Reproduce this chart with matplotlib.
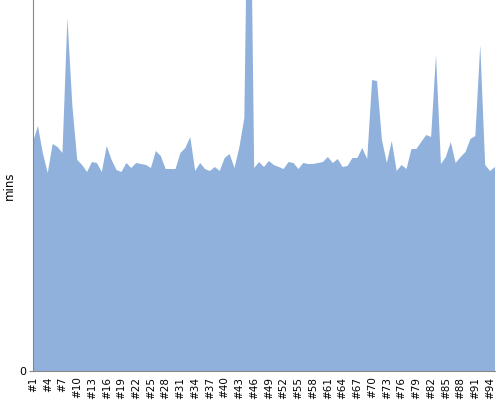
import numpy as np
import matplotlib
matplotlib.use("Agg")
import matplotlib.pyplot as plt

# minutes per run, #1 .. #95
mins = [45.8, 49.0, 43.6, 39.6, 45.4, 44.8, 43.6, 70.6, 53.2, 42.2,
        41.2, 39.8, 41.8, 41.6, 39.8, 45.0, 42.2, 40.2, 39.8, 41.6,
        40.6, 41.6, 41.4, 41.2, 40.6, 44.0, 43.0, 40.4, 40.4, 40.4,
        43.6, 44.6, 46.8, 40.0, 41.6, 40.4, 40.0, 40.8, 40.0, 42.6,
        43.4, 40.6, 44.8, 50.6, 122.2, 40.6, 41.8, 40.8, 42.0, 41.2,
        40.8, 40.4, 41.8, 41.6, 40.4, 41.6, 41.4, 41.4, 41.6, 41.8,
        42.8, 41.6, 42.4, 40.8, 41.0, 42.6, 42.6, 44.6, 42.4, 58.2,
        58.0, 46.2, 41.6, 46.0, 40.0, 41.2, 40.4, 44.4, 44.4, 45.8,
        47.2, 46.8, 63.2, 41.4, 42.8, 45.8, 41.6, 42.8, 43.8, 46.4,
        47.0, 65.2, 41.2, 40.0, 40.8]
runs = ["#%d" % (i + 1) for i in range(len(mins))]
y_max = 74.2

x = np.arange(len(mins))

fig = plt.figure(figsize=(5, 4), dpi=100)
ax = fig.add_axes([0.066, 0.0725, 0.924, 0.9275])

ax.fill_between(x, mins, 0, color='#8fb1db', linewidth=0)

ax.set_xlim(0, len(mins) - 1)
ax.set_ylim(0, y_max)

ax.set_xticks(x[::3])
ax.set_xticklabels(runs[::3], rotation=90, fontsize=7.5)
ax.tick_params(axis='x', length=0, pad=4)
ax.set_yticks([0])
ax.tick_params(axis='y', length=3, color='#888888', labelsize=8, pad=2)

ax.set_ylabel("mins", fontsize=8.5)
ax.yaxis.set_label_coords(-0.038, 0.5)

for s in ['top', 'right']:
    ax.spines[s].set_visible(False)
for s in ['left', 'bottom']:
    ax.spines[s].set_color('#888888')

fig.savefig("out.png", dpi=100)
